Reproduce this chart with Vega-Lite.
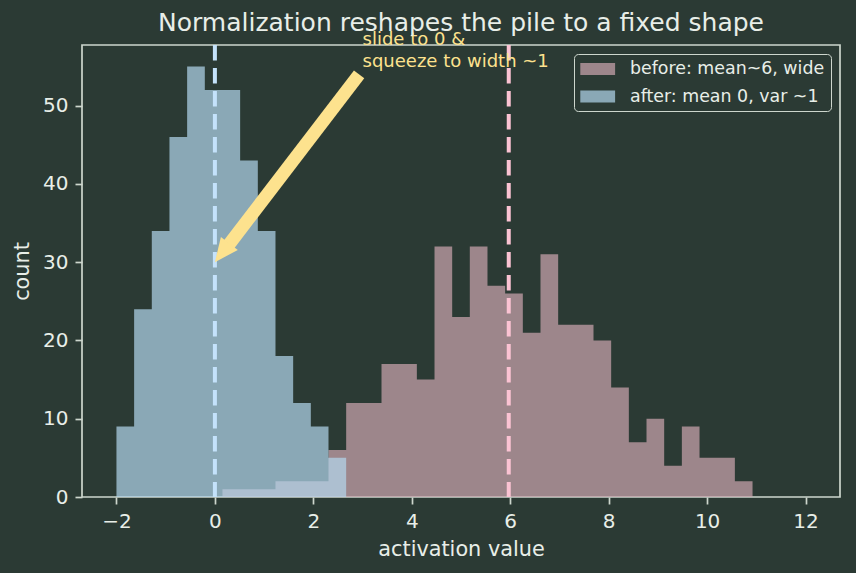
{
  "$schema": "https://vega.github.io/schema/vega-lite/v6.json",
  "width": 758,
  "height": 452,
  "autosize": {"type": "none"},
  "padding": {"left": 82, "top": 45, "right": 16, "bottom": 76},
  "background": "#2b3a34",
  "title": {
    "text": "Normalization reshapes the pile to a fixed shape",
    "font": "DejaVu Sans",
    "fontSize": 25,
    "fontWeight": "normal",
    "color": "#e8eee8",
    "anchor": "middle",
    "offset": -5
  },
  "config": {
    "font": "DejaVu Sans",
    "view": {"stroke": "#cdd6cd", "strokeWidth": 1.7},
    "axis": {
      "domain": false,
      "grid": false,
      "tickColor": "#cdd6cd",
      "tickSize": 7,
      "tickWidth": 1.7,
      "labelColor": "#e8eee8",
      "labelFont": "DejaVu Sans",
      "labelFontSize": 20,
      "labelPadding": 7,
      "titleColor": "#e8eee8",
      "titleFont": "DejaVu Sans",
      "titleFontSize": 20.8,
      "titleFontWeight": "normal"
    }
  },
  "datasets": {
    "hist": [
      {"series": "before: mean~6, wide", "bin_start": 0.154, "bin_end": 0.513, "count": 1},
      {"series": "before: mean~6, wide", "bin_start": 0.513, "bin_end": 0.872, "count": 1},
      {"series": "before: mean~6, wide", "bin_start": 0.872, "bin_end": 1.231, "count": 1},
      {"series": "before: mean~6, wide", "bin_start": 1.231, "bin_end": 1.590, "count": 2},
      {"series": "before: mean~6, wide", "bin_start": 1.590, "bin_end": 1.949, "count": 2},
      {"series": "before: mean~6, wide", "bin_start": 1.949, "bin_end": 2.308, "count": 2},
      {"series": "before: mean~6, wide", "bin_start": 2.308, "bin_end": 2.667, "count": 6},
      {"series": "before: mean~6, wide", "bin_start": 2.667, "bin_end": 3.026, "count": 12},
      {"series": "before: mean~6, wide", "bin_start": 3.026, "bin_end": 3.385, "count": 12},
      {"series": "before: mean~6, wide", "bin_start": 3.385, "bin_end": 3.744, "count": 17},
      {"series": "before: mean~6, wide", "bin_start": 3.744, "bin_end": 4.103, "count": 17},
      {"series": "before: mean~6, wide", "bin_start": 4.103, "bin_end": 4.462, "count": 15},
      {"series": "before: mean~6, wide", "bin_start": 4.462, "bin_end": 4.821, "count": 32},
      {"series": "before: mean~6, wide", "bin_start": 4.821, "bin_end": 5.179, "count": 23},
      {"series": "before: mean~6, wide", "bin_start": 5.179, "bin_end": 5.538, "count": 32},
      {"series": "before: mean~6, wide", "bin_start": 5.538, "bin_end": 5.897, "count": 27},
      {"series": "before: mean~6, wide", "bin_start": 5.897, "bin_end": 6.256, "count": 26},
      {"series": "before: mean~6, wide", "bin_start": 6.256, "bin_end": 6.615, "count": 21},
      {"series": "before: mean~6, wide", "bin_start": 6.615, "bin_end": 6.974, "count": 31},
      {"series": "before: mean~6, wide", "bin_start": 6.974, "bin_end": 7.333, "count": 22},
      {"series": "before: mean~6, wide", "bin_start": 7.333, "bin_end": 7.692, "count": 22},
      {"series": "before: mean~6, wide", "bin_start": 7.692, "bin_end": 8.051, "count": 20},
      {"series": "before: mean~6, wide", "bin_start": 8.051, "bin_end": 8.410, "count": 14},
      {"series": "before: mean~6, wide", "bin_start": 8.410, "bin_end": 8.769, "count": 7},
      {"series": "before: mean~6, wide", "bin_start": 8.769, "bin_end": 9.128, "count": 10},
      {"series": "before: mean~6, wide", "bin_start": 9.128, "bin_end": 9.487, "count": 4},
      {"series": "before: mean~6, wide", "bin_start": 9.487, "bin_end": 9.846, "count": 9},
      {"series": "before: mean~6, wide", "bin_start": 9.846, "bin_end": 10.205, "count": 5},
      {"series": "before: mean~6, wide", "bin_start": 10.205, "bin_end": 10.564, "count": 5},
      {"series": "before: mean~6, wide", "bin_start": 10.564, "bin_end": 10.923, "count": 2},
      {"series": "after: mean 0, var ~1", "bin_start": -2.000, "bin_end": -1.641, "count": 9},
      {"series": "after: mean 0, var ~1", "bin_start": -1.641, "bin_end": -1.282, "count": 24},
      {"series": "after: mean 0, var ~1", "bin_start": -1.282, "bin_end": -0.923, "count": 34},
      {"series": "after: mean 0, var ~1", "bin_start": -0.923, "bin_end": -0.564, "count": 46},
      {"series": "after: mean 0, var ~1", "bin_start": -0.564, "bin_end": -0.205, "count": 55},
      {"series": "after: mean 0, var ~1", "bin_start": -0.205, "bin_end": 0.154, "count": 52},
      {"series": "after: mean 0, var ~1", "bin_start": 0.154, "bin_end": 0.513, "count": 52},
      {"series": "after: mean 0, var ~1", "bin_start": 0.513, "bin_end": 0.872, "count": 43},
      {"series": "after: mean 0, var ~1", "bin_start": 0.872, "bin_end": 1.231, "count": 34},
      {"series": "after: mean 0, var ~1", "bin_start": 1.231, "bin_end": 1.590, "count": 18},
      {"series": "after: mean 0, var ~1", "bin_start": 1.590, "bin_end": 1.949, "count": 12},
      {"series": "after: mean 0, var ~1", "bin_start": 1.949, "bin_end": 2.308, "count": 9},
      {"series": "after: mean 0, var ~1", "bin_start": 2.308, "bin_end": 2.667, "count": 5}
    ],
    "means": [
      {"series": "before", "mean": 5.97},
      {"series": "after", "mean": 0.0}
    ],
    "note": [
      {"label": "slide to 0 &\nsqueeze to width ~1", "text_x": 3, "text_y": 55, "tail_x": 2.93, "tail_y": 54.0, "neck_x": 0.29, "neck_y": 32.3, "tip_x": 0, "tip_y": 30}
    ]
  },
  "layer": [
    {
      "data": {"name": "hist"},
      "transform": [{"fold": ["bin_start", "bin_end"], "as": ["edge_kind", "edge"]}],
      "mark": {"type": "area", "opacity": 0.7, "interpolate": "linear", "strokeWidth": 0},
      "encoding": {
        "x": {
          "field": "edge",
          "type": "quantitative",
          "scale": {"domain": [-2.7, 12.7], "nice": false, "zero": false},
          "axis": {"title": "activation value", "values": [-2, 0, 2, 4, 6, 8, 10, 12], "titlePadding": 8}
        },
        "y": {
          "field": "count",
          "type": "quantitative",
          "stack": null,
          "scale": {"domain": [0, 57.75], "nice": false},
          "axis": {"title": "count", "values": [0, 10, 20, 30, 40, 50], "titlePadding": 10}
        },
        "color": {
          "field": "series",
          "type": "nominal",
          "sort": null,
          "scale": {
            "domain": ["before: mean~6, wide", "after: mean 0, var ~1"],
            "range": ["#cfa7b1", "#b4d7ee"]
          },
          "legend": {
            "orient": "none",
            "legendX": 492,
            "legendY": 9,
            "title": null,
            "symbolType": "M-1,-0.69H3V0.69H-1Z",
            "symbolSize": 303,
            "symbolOpacity": 0.7,
            "symbolStrokeWidth": 0,
            "labelFont": "DejaVu Sans",
            "labelFontSize": 17.4,
            "labelColor": "#e8eee8",
            "labelOffset": 32,
            "labelLimit": 400,
            "strokeColor": "#cdd6cd",
            "fillColor": "#2b3a34",
            "cornerRadius": 4,
            "padding": 6,
            "rowPadding": 9.5
          }
        }
      }
    },
    {
      "data": {"name": "means"},
      "transform": [{"filter": "datum.series === 'after'"}],
      "mark": {"type": "rule", "color": "#c4e2fb", "strokeWidth": 4, "strokeDash": [15.5, 7.5]},
      "encoding": {"x": {"field": "mean", "type": "quantitative"}}
    },
    {
      "data": {"name": "means"},
      "transform": [{"filter": "datum.series === 'before'"}],
      "mark": {"type": "rule", "color": "#fbc3d3", "strokeWidth": 4, "strokeDash": [15.5, 7.5]},
      "encoding": {"x": {"field": "mean", "type": "quantitative"}}
    },
    {
      "data": {"name": "note"},
      "mark": {"type": "rule", "color": "#fde28e", "strokeWidth": 13, "strokeCap": "butt"},
      "encoding": {
        "x": {"field": "tail_x", "type": "quantitative"},
        "y": {"field": "tail_y", "type": "quantitative"},
        "x2": {"field": "neck_x"},
        "y2": {"field": "neck_y"}
      }
    },
    {
      "data": {"name": "note"},
      "mark": {"type": "point", "shape": "M0,0L-0.9,2L0.9,2Z", "size": 562, "angle": 217.6, "filled": true, "opacity": 1, "color": "#fde28e", "strokeWidth": 0},
      "encoding": {
        "x": {"field": "tip_x", "type": "quantitative"},
        "y": {"field": "tip_y", "type": "quantitative"}
      }
    },
    {
      "data": {"name": "note"},
      "mark": {"type": "text", "align": "left", "baseline": "alphabetic", "lineBreak": "\n", "lineHeight": 22, "dy": -22, "fontSize": 18, "font": "DejaVu Sans", "color": "#fde28e"},
      "encoding": {
        "x": {"field": "text_x", "type": "quantitative"},
        "y": {"field": "text_y", "type": "quantitative"},
        "text": {"field": "label"}
      }
    }
  ]
}
